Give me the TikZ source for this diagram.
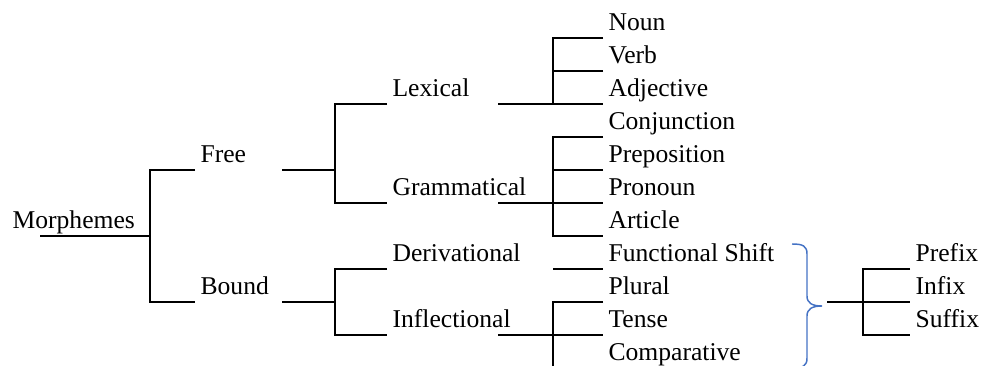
\documentclass[tikz,border=0pt]{standalone}
\usepackage{fontspec}
\setmainfont{Liberation Serif}
\definecolor{bracecol}{RGB}{68,114,196}
\begin{document}
\begin{tikzpicture}[x=0.75pt,y=0.75pt,yscale=-1,xscale=1,
  word/.style={anchor=south west,inner xsep=4pt,inner ysep=0pt,text depth=5.6pt,font=\fontsize{19.2}{23}\selectfont},
  tree/.style={line width=1.4pt}]
\useasboundingbox (0,0) rectangle (981,366);

% Text Nodes
\node[word] (morph) at (7,236) {Morphemes};
\node[word] (free) at (195,170) {Free};
\node[word] (bound) at (195,302) {Bound};
\node[word] (lex) at (387,104) {Lexical};
\node[word] (gram) at (387,203) {Grammatical};
\node[word] (deriv) at (387,269) {Derivational};
\node[word] (infl) at (387,335) {Inflectional};
\node[word] (noun) at (603,38) {Noun};
\node[word] (verb) at (603,71) {Verb};
\node[word] (adj) at (603,104) {Adjective};
\node[word] (conj) at (603,137) {Conjunction};
\node[word] (prep) at (603,170) {Preposition};
\node[word] (pron) at (603,203) {Pronoun};
\node[word] (art) at (603,236) {Article};
\node[word] (shift) at (603,269) {Functional Shift};
\node[word] (plural) at (603,302) {Plural};
\node[word] (tense) at (603,335) {Tense};
\node[word] (comp) at (603,368) {Comparative};
\node[word] (prefix) at (910,269) {Prefix};
\node[word] (infix) at (910,302) {Infix};
\node[word] (suffix) at (910,335) {Suffix};

% Joints
\coordinate (m0) at (40,236);
\coordinate (j1) at (150,236);
\coordinate (f0) at (282,170);
\coordinate (j2) at (335,170);
\coordinate (b0) at (282,302);
\coordinate (j3) at (335,302);
\coordinate (l0) at (498,104);
\coordinate (j4) at (553,104);
\coordinate (g0) at (498,203);
\coordinate (j5) at (553,203);
\coordinate (d0) at (553,269);
\coordinate (i0) at (498,335);
\coordinate (j6) at (553,335);
\coordinate (a0) at (827,302);
\coordinate (j7) at (863,302);

% Morphemes
\draw[tree] (m0) -- (j1);
\draw[tree] (free.south west) -| (j1) |- (bound.south west);
% Free
\draw[tree] (f0) -- (j2);
\draw[tree] (lex.south west) -| (j2) |- (gram.south west);
% Bound
\draw[tree] (b0) -- (j3);
\draw[tree] (deriv.south west) -| (j3) |- (infl.south west);
% Lexical
\draw[tree] (l0) -- (j4);
\draw[tree] (noun.south west) -| (j4) -- (adj.south west);
\draw[tree] (verb.south west) -- (verb.south west -| j4);
% Grammatical
\draw[tree] (g0) -- (j5);
\draw[tree] (conj.south west) -| (j5) |- (art.south west);
\draw[tree] (prep.south west) -- (prep.south west -| j5);
\draw[tree] (j5) -- (pron.south west);
% Derivational
\draw[tree] (d0) -- (shift.south west);
% Inflectional
\draw[tree] (i0) -- (j6);
\draw[tree] (plural.south west) -| (j6) |- (comp.south west);
\draw[tree] (j6) -- (tense.south west);

% Brace
\draw[bracecol,line width=1.1pt] (792,244) .. controls (803,244) and (807,246) .. (807,254) -- (807,296) .. controls (807,303) and (812,306) .. (822,306) .. controls (812,306) and (807,309) .. (807,316) -- (807,358) .. controls (807,366) and (803,368) .. (792,368);

% Affixes
\draw[tree] (a0) -- (j7);
\draw[tree] (prefix.south west) -| (j7) |- (suffix.south west);
\draw[tree] (j7) -- (infix.south west);
\end{tikzpicture}
\end{document}
